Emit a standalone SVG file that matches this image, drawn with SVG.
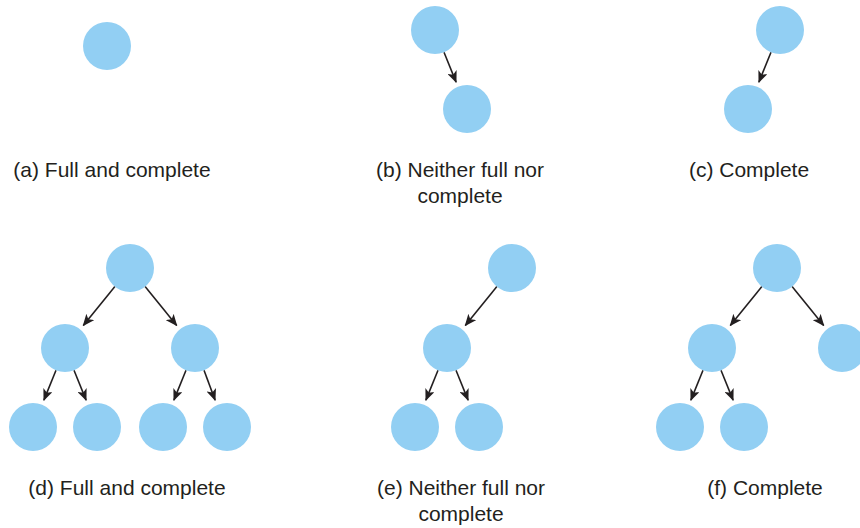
<svg xmlns="http://www.w3.org/2000/svg" width="860" height="528" viewBox="0 0 860 528">
<defs>
<marker id="ah" markerUnits="userSpaceOnUse" markerWidth="12" markerHeight="10" viewBox="0 0 12 10" refX="11" refY="5" orient="auto">
<path d="M0,0 L12,5 L0,10 L3,5 z" fill="#231f20"/>
</marker>
<style>
.n{fill:#92cff3;}
.e line{stroke:#231f20;stroke-width:1.6;marker-end:url(#ah);}
.t{font-family:"Liberation Sans",Arial,sans-serif;font-size:21px;fill:#231f20;text-anchor:middle;}
</style>
</defs>
<rect width="860" height="528" fill="#fff"/>
<g id="connectors" class="e">
<line x1="444" y1="52.2" x2="456.1" y2="82.1"/>
<line x1="771" y1="52.2" x2="758.9" y2="82.1"/>
<line x1="114.9" y1="286.6" x2="83.3" y2="325.5"/>
<line x1="145.1" y1="286.6" x2="176.7" y2="325.5"/>
<line x1="56" y1="370.2" x2="43.9" y2="400.1"/>
<line x1="74" y1="370.2" x2="86.1" y2="400.1"/>
<line x1="186" y1="370.2" x2="173.9" y2="400.1"/>
<line x1="204" y1="370.2" x2="215.1" y2="400.1"/>
<line x1="496.9" y1="286.6" x2="465.3" y2="325.5"/>
<line x1="438" y1="370.2" x2="425.9" y2="400.1"/>
<line x1="456" y1="370.2" x2="468.1" y2="400.1"/>
<line x1="761.9" y1="286.6" x2="730.3" y2="325.5"/>
<line x1="792.1" y1="286.6" x2="823.7" y2="325.5"/>
<line x1="703" y1="370.2" x2="690.9" y2="400.1"/>
<line x1="721" y1="370.2" x2="733.1" y2="400.1"/>
</g>
<g id="a"><circle id="a1" class="n" cx="107" cy="46" r="24"/></g>
<g id="b"><circle id="b1" class="n" cx="435" cy="30" r="24"/><circle id="b2" class="n" cx="467" cy="109" r="24"/></g>
<g id="c"><circle id="c1" class="n" cx="780" cy="30" r="24"/><circle id="c2" class="n" cx="748" cy="109" r="24"/></g>
<g id="d">
<circle id="d1" class="n" cx="130" cy="268" r="24"/>
<circle id="d2" class="n" cx="65" cy="348" r="24"/>
<circle id="d3" class="n" cx="195" cy="348" r="24"/>
<circle id="d4" class="n" cx="33" cy="427" r="24"/>
<circle id="d5" class="n" cx="97" cy="427" r="24"/>
<circle id="d6" class="n" cx="163" cy="427" r="24"/>
<circle id="d7" class="n" cx="227" cy="427" r="24"/>
</g>
<g id="e">
<circle id="e1" class="n" cx="512" cy="268" r="24"/>
<circle id="e2" class="n" cx="447" cy="348" r="24"/>
<circle id="e3" class="n" cx="415" cy="427" r="24"/>
<circle id="e4" class="n" cx="479" cy="427" r="24"/>
</g>
<g id="f">
<circle id="f1" class="n" cx="777" cy="268" r="24"/>
<circle id="f2" class="n" cx="712" cy="348" r="24"/>
<circle id="f3" class="n" cx="842" cy="348" r="24"/>
<circle id="f4" class="n" cx="680" cy="427" r="24"/>
<circle id="f5" class="n" cx="744" cy="427" r="24"/>
</g>
<g id="labels">
<text class="t" x="112" y="177">(a) Full and complete</text>
<text class="t" x="460" y="177">(b) Neither full nor</text>
<text class="t" x="460" y="203">complete</text>
<text class="t" x="749" y="177">(c) Complete</text>
<text class="t" x="127" y="495">(d) Full and complete</text>
<text class="t" x="461" y="495">(e) Neither full nor</text>
<text class="t" x="461" y="521">complete</text>
<text class="t" x="765" y="495">(f) Complete</text>
</g>
</svg>
